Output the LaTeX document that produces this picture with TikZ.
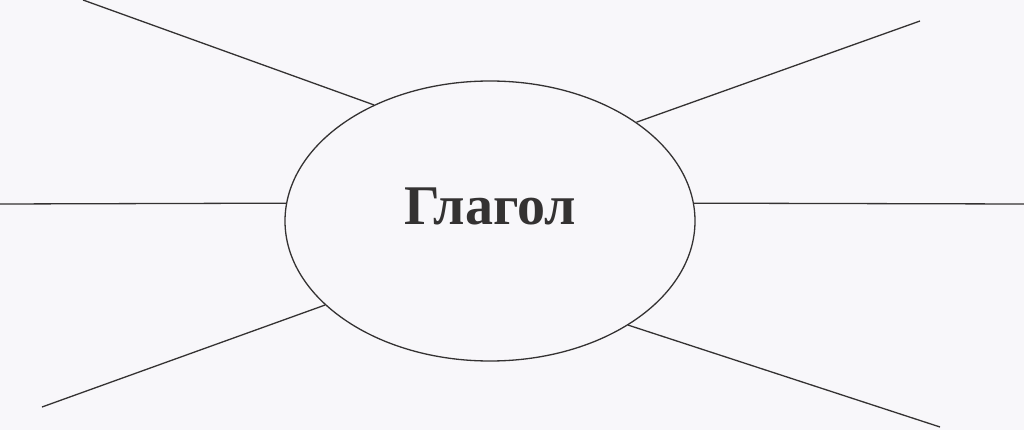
\documentclass[tikz,border=0pt]{standalone}
\usepackage{fontspec}
\setmainfont{Liberation Serif}
\usepackage{xcolor}
\usepackage{tikz}
\usetikzlibrary{shapes.geometric}
\definecolor{ink}{RGB}{52,50,50}
\definecolor{paper}{RGB}{248,247,250}

\begin{document}
\begin{tikzpicture}[x=1pt, y=-1pt, line width=1.3pt,
  verbshape/.style={ellipse, draw=ink, line width=1.3pt, inner sep=0pt, minimum width=410pt, minimum height=280pt},
  verbword/.style={inner sep=0pt, font=\fontsize{56}{60}\selectfont\bfseries, text=ink}]
    \fill[paper] (0,0) rectangle (1024,430);
    \useasboundingbox (0,0) rectangle (1024,430);

    \node[verbshape] (verb) at (490,221) {};
    \node[verbword, anchor=base] (word) at (490,225) {Глагол};

    \coordinate (tl) at (83,0);
    \coordinate (tr) at (920,21);
    \coordinate (ml) at (0,204);
    \coordinate (mr) at (1024,204);
    \coordinate (bl) at (42,407);
    \coordinate (br) at (940,427);

    \draw[ink] (tl) -- (verb.135.7);
    \draw[ink] (tr) -- (verb.34);
    \draw[ink] (ml) -- (verb.175.2);
    \draw[ink] (mr) -- (verb.5.6);
    \draw[ink] (bl) -- (verb.207.3);
    \draw[ink] (br) -- (verb.323.8);
\end{tikzpicture}
\end{document}
